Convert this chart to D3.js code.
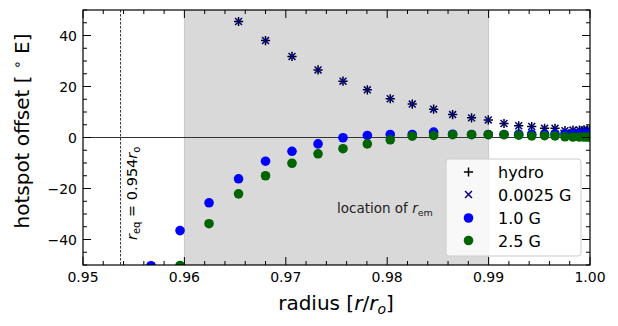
<!DOCTYPE html>
<html>
<head>
<meta charset="utf-8">
<script src="https://cdn.jsdelivr.net/npm/d3@7"></script>
<style>
  html, body { margin: 0; padding: 0; background: #fff; }
  svg { display: block; font-family: "DejaVu Sans", sans-serif; }
</style>
</head>
<body>
<svg id="chart" width="618" height="326"></svg>
<script>
// ---- data ----
const radius = [0.95671, 0.95957, 0.96243, 0.96534, 0.96800, 0.97061, 0.97318, 0.97564, 0.97804, 0.98030,
                0.98247, 0.98458, 0.98645, 0.98832, 0.98997, 0.99152, 0.99297, 0.99425, 0.99552, 0.99655,
                0.99753, 0.99832, 0.99896, 0.99941, 0.99975, 0.99995];
const hydro   = [null, null, null, 45.5, 38.0, 31.8, 26.5, 22.1, 18.7, 15.2,
                 13.1, 11.1, 9.0, 7.7, 6.9, 5.5, 4.6, 4.3, 3.6, 3.6,
                 2.7, 2.9, 2.9, 3.0, 3.0, 3.0];
const g0025   = [null, null, null, 45.5, 38.0, 31.8, 26.5, 22.1, 18.7, 15.2,
                 13.1, 11.1, 9.0, 7.7, 6.9, 5.5, 4.6, 4.3, 3.6, 3.6,
                 2.7, 2.9, 2.9, 3.0, 3.0, 3.0];
const g10     = [-50.3, -36.5, -25.6, -16.2, -9.3, -5.4, -2.5, -0.1, 0.8, 1.2,
                 1.2, 2.1, 1.3, 1.2, 1.2, 1.2, 1.3, 1.3, 1.3, 1.4,
                 1.4, 1.5, 1.5, 1.5, 1.5, 1.5];
const g25     = [null, -50.2, -33.8, -22.1, -15.0, -10.1, -6.4, -4.4, -2.5, -0.9,
                 0.5, 0.8, 1.1, 1.1, 1.1, 1.1, 0.9, 0.6, 0.7, 0.6,
                 0.3, 0.2, 0.2, 0.2, 0.2, 0.2];
const seriesNames = ["hydro", "0.0025 G", "1.0 G", "2.5 G"];
const xTicks = [0.95, 0.96, 0.97, 0.98, 0.99, 1.00];
const yTicks = [-40, -20, 0, 20, 40];
const xDomain = [0.95, 1.00];
const yDomain = [-50, 50];
const spanRange = [0.96, 0.99];
const rEq = 0.9537;

// ---- layout ----
const svg = d3.select("#chart");
const L = 83, R = 590, T = 10, B = 265;
const x = d3.scaleLinear().domain(xDomain).range([L, R]);
const y = d3.scaleLinear().domain(yDomain).range([B, T]);

svg.append("defs").append("clipPath").attr("id", "clip")
  .append("rect").attr("x", L).attr("y", T).attr("width", R - L).attr("height", B - T);

const plot = svg.append("g").attr("clip-path", "url(#clip)");

// shaded span
plot.append("rect")
  .attr("x", x(spanRange[0])).attr("y", T)
  .attr("width", x(spanRange[1]) - x(spanRange[0])).attr("height", B - T)
  .attr("fill", "#d9d9d9").attr("stroke", "#c8c8c8").attr("stroke-width", 1);

// dashed vertical line
plot.append("line")
  .attr("x1", x(rEq)).attr("x2", x(rEq)).attr("y1", T).attr("y2", B)
  .attr("stroke", "#000").attr("stroke-width", 0.8).attr("stroke-dasharray", "2.5,1.5");

// zero line
plot.append("line")
  .attr("x1", L).attr("x2", R).attr("y1", y(0)).attr("y2", y(0))
  .attr("stroke", "#333").attr("stroke-width", 1);

// markers
const pts = (vals) => radius.map((r, i) => ({ r, v: vals[i] })).filter(d => d.v !== null);
const ms = 4.6;
function plus(g, d, color) {
  g.append("path").attr("d", `M${-ms},0H${ms}M0,${-ms}V${ms}`)
    .attr("transform", `translate(${x(d.r)},${y(d.v)})`)
    .attr("stroke", color).attr("stroke-width", 1.5).attr("fill", "none");
}
function cross(g, d, color) {
  const s = ms * 0.75;
  g.append("path").attr("d", `M${-s},${-s}L${s},${s}M${-s},${s}L${s},${-s}`)
    .attr("transform", `translate(${x(d.r)},${y(d.v)})`)
    .attr("stroke", color).attr("stroke-width", 1.5).attr("fill", "none");
}
const gH = plot.append("g");
pts(hydro).forEach(d => plus(gH, d, "#000"));
const gX = plot.append("g");
pts(g0025).forEach(d => cross(gX, d, "#00008b"));
plot.append("g").selectAll("circle").data(pts(g10)).join("circle")
  .attr("cx", d => x(d.r)).attr("cy", d => y(d.v)).attr("r", 4.8).attr("fill", "#0000ff");
plot.append("g").selectAll("circle").data(pts(g25)).join("circle")
  .attr("cx", d => x(d.r)).attr("cy", d => y(d.v)).attr("r", 4.8).attr("fill", "#006400");

// annotations
const t1 = svg.append("text")
  .attr("transform", `translate(137,240) rotate(-90)`)
  .attr("font-size", 14.5).attr("fill", "#000");
t1.append("tspan").attr("font-style", "italic").text("r");
t1.append("tspan").attr("font-size", 10).attr("dy", 3).text("eq");
t1.append("tspan").attr("dy", -3).text(" = 0.954");
t1.append("tspan").attr("font-style", "italic").text("r");
t1.append("tspan").attr("font-size", 10).attr("dy", 3).text("o");

const t2 = svg.append("text").attr("x", 337).attr("y", 213).attr("font-size", 13.5).attr("fill", "#222");
t2.append("tspan").text("location of ");
t2.append("tspan").attr("font-style", "italic").text("r");
t2.append("tspan").attr("font-size", 9.5).attr("dy", 3).text("em");

// axes: ticks inward on all sides
const xMinor = d3.range(0.95, 1.0001, 0.002).filter(v => !xTicks.some(t => Math.abs(t - v) < 1e-9));
const yMinor = d3.range(-50, 50.001, 5).filter(v => !yTicks.some(t => Math.abs(t - v) < 1e-9));
const MAJ = 8, MIN = 4;
const axG = svg.append("g").attr("stroke", "#000").attr("stroke-width", 1);
function xt(v, len) {
  axG.append("line").attr("x1", x(v)).attr("x2", x(v)).attr("y1", B).attr("y2", B - len);
  axG.append("line").attr("x1", x(v)).attr("x2", x(v)).attr("y1", T).attr("y2", T + len);
}
function yt(v, len) {
  axG.append("line").attr("y1", y(v)).attr("y2", y(v)).attr("x1", L).attr("x2", L + len);
  axG.append("line").attr("y1", y(v)).attr("y2", y(v)).attr("x1", R).attr("x2", R - len);
}
xTicks.forEach(v => xt(v, MAJ));
xMinor.forEach(v => xt(v, MIN));
yTicks.forEach(v => yt(v, MAJ));
yMinor.forEach(v => yt(v, MIN));

svg.append("rect").attr("x", L).attr("y", T).attr("width", R - L).attr("height", B - T)
  .attr("fill", "none").attr("stroke", "#000").attr("stroke-width", 1.2);

// tick labels
const fmtX = d3.format(".2f");
svg.append("g").selectAll("text").data(xTicks).join("text")
  .attr("x", d => x(d)).attr("y", 282).attr("text-anchor", "middle")
  .attr("font-size", 14).attr("fill", "#000").text(d => fmtX(d));
svg.append("g").selectAll("text").data(yTicks).join("text")
  .attr("x", 77).attr("y", d => y(d) + 5).attr("text-anchor", "end")
  .attr("font-size", 14).attr("fill", "#000").text(d => d < 0 ? "\u2212" + Math.abs(d) : d);

// axis labels
const xl = svg.append("text").attr("x", 336).attr("y", 310).attr("text-anchor", "middle")
  .attr("font-size", 20).attr("fill", "#000");
xl.append("tspan").text("radius [");
xl.append("tspan").attr("font-style", "italic").text("r");
xl.append("tspan").text("/");
xl.append("tspan").attr("font-style", "italic").text("r");
xl.append("tspan").attr("font-style", "italic").attr("font-size", 14).attr("dy", 4).text("o");
xl.append("tspan").attr("dy", -4).text("]");

const yl = svg.append("text").attr("transform", "translate(29,131) rotate(-90)")
  .attr("text-anchor", "middle").attr("font-size", 20).attr("fill", "#000");
yl.append("tspan").text("hotspot offset [ ");
yl.append("tspan").attr("font-size", 14).attr("dy", -7).text("\u2218");
yl.append("tspan").attr("dy", 7).text(" E]");

// legend
const lg = svg.append("g");
lg.append("rect").attr("x", 446).attr("y", 159).attr("width", 135).attr("height", 97)
  .attr("rx", 3).attr("fill", "#fff").attr("fill-opacity", 0.8).attr("stroke", "#cccccc").attr("stroke-width", 1);
const rowsY = [172, 194.5, 218, 240.5];
const mx = 468.5;
lg.append("path").attr("d", `M${mx - ms},${rowsY[0]}H${mx + ms}M${mx},${rowsY[0] - ms}V${rowsY[0] + ms}`)
  .attr("stroke", "#000").attr("stroke-width", 1.5);
const s = ms * 0.75;
lg.append("path").attr("d", `M${mx - s},${rowsY[1] - s}L${mx + s},${rowsY[1] + s}M${mx - s},${rowsY[1] + s}L${mx + s},${rowsY[1] - s}`)
  .attr("stroke", "#00008b").attr("stroke-width", 1.5);
lg.append("circle").attr("cx", mx).attr("cy", rowsY[2]).attr("r", 4.8).attr("fill", "#0000ff");
lg.append("circle").attr("cx", mx).attr("cy", rowsY[3]).attr("r", 4.8).attr("fill", "#006400");
lg.selectAll("text.lab").data(seriesNames).join("text").attr("class", "lab")
  .attr("x", 498).attr("y", (d, i) => rowsY[i] + 6).attr("font-size", 16).attr("fill", "#000").text(d => d);
</script>
</body>
</html>
